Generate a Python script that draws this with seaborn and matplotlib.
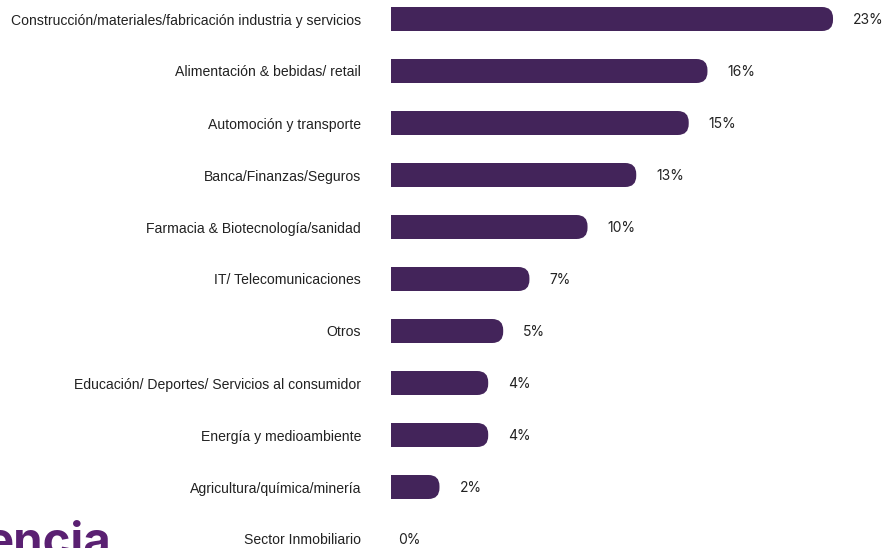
import matplotlib
matplotlib.use("Agg")
import matplotlib.pyplot as plt
from matplotlib.patches import FancyBboxPatch
import seaborn as sns
import pandas as pd

categories = [
    "Construcción/materiales/fabricación industria y servicios",
    "Alimentación & bebidas/ retail",
    "Automoción y transporte",
    "Banca/Finanzas/Seguros",
    "Farmacia & Biotecnología/sanidad",
    "IT/ Telecomunicaciones",
    "Otros",
    "Educación/ Deportes/ Servicios al consumidor",
    "Energía y medioambiente",
    "Agricultura/química/minería",
    "Sector Inmobiliario",
]
values = [23.0, 16.3, 15.3, 12.5, 9.9, 6.8, 5.4, 4.6, 4.6, 2.0, 0.0]
value_labels = ["23%", "16%", "15%", "13%", "10%", "7%", "5%", "4%", "4%", "2%", "0%"]

BAR = "#43245A"
TEXT = "#222222"
LOGO = "#5A2072"

sns.set_theme(style="white")
plt.rcParams["font.family"] = ["Liberation Sans", "DejaVu Sans"]

W, H = 888, 548
fig = plt.figure(figsize=(W / 100, H / 100), dpi=100)

px_per_unit = 18.74
row_px = 52
left_px = 391
ax = fig.add_axes([left_px / W, -17 / H, (W - left_px) / W, 572 / H])

df = pd.DataFrame({"sector": categories, "pct": values})
sns.barplot(data=df, x="pct", y="sector", orient="h", color=BAR,
            width=24 / row_px, linewidth=0, saturation=1, ax=ax)

ax.set_xlim(0, (W - left_px) / px_per_unit)
ax.set_ylim(len(categories) - 0.5, -0.5)

r_px = 11
r_x = r_px / px_per_unit
for patch, v in zip(list(ax.patches), values):
    if v <= 0:
        continue
    x0, y0 = patch.get_x(), patch.get_y()
    h = patch.get_height()
    cap = FancyBboxPatch((x0, y0), v + r_x, h,
                         boxstyle=f"round,pad=0,rounding_size={r_x}",
                         mutation_aspect=px_per_unit / row_px,
                         facecolor=BAR, edgecolor="none", linewidth=0)
    ax.add_patch(cap)

for i, (v, lab) in enumerate(zip(values, value_labels)):
    tip = v + r_x if v > 0 else 0
    gap_px = 20 if v > 0 else 7
    ax.annotate(lab, xy=(tip, i), xytext=(gap_px * 0.72, -1.0 * 0.72),
                textcoords="offset points", va="center", ha="left",
                fontsize=10, family=["Inter", "DejaVu Sans"], color=TEXT)

ax.set_xlabel("")
ax.set_ylabel("")
ax.set_xticks([])
ax.tick_params(axis="y", length=0, pad=30 * 0.72, labelsize=10.1, labelcolor=TEXT)
for s in ax.spines.values():
    s.set_visible(False)

fig.text(-15 / W, -8 / H, "encia", fontsize=34, fontweight="bold",
         family=["Inter", "DejaVu Sans"], color=LOGO, ha="left", va="baseline")

fig.savefig("out.png", dpi=100)
